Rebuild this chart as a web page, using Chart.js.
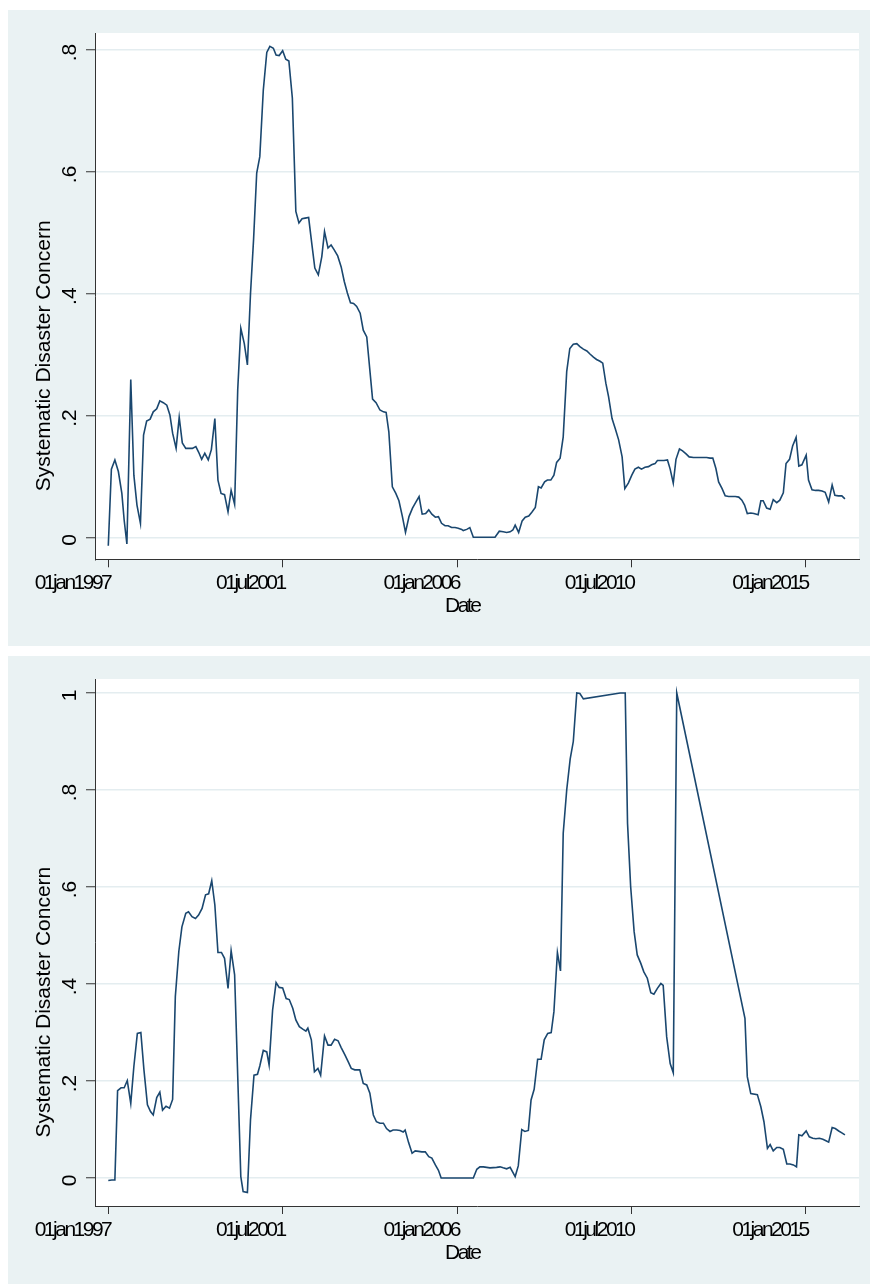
<!DOCTYPE html>
<html>
<head>
<meta charset="utf-8">
<script src="https://cdn.jsdelivr.net/npm/chart.js@4.4.1/dist/chart.umd.min.js"></script>
<style>
  body { margin: 0; background: #fff; }
  .panel { position: absolute; left: 8px; width: 862px; background: #EAF2F3; }
  #panel1 { top: 10px; height: 636px; }
  #panel2 { top: 656px; height: 628px; }
  canvas { display: block; }
</style>
</head>
<body>
<div class="panel" id="panel1"><canvas id="chart1" width="862" height="636"></canvas></div>
<div class="panel" id="panel2"><canvas id="chart2" width="862" height="628"></canvas></div>
<script>
const xTicks = [1997, 2001.5, 2006, 2010.5, 2015];
const xTickLabels = ['01jan1997', '01jul2001', '01jan2006', '01jul2010', '01jan2015'];
const xTitle = 'Date';
const yTitle = 'Systematic Disaster Concern';
const yTicks1 = [0, 0.2, 0.4, 0.6, 0.8];
const yTicks2 = [0, 0.2, 0.4, 0.6, 0.8, 1];

// top panel (dates as decimal years)
const dates1 = [
  1997.00, 1997.08, 1997.17, 1997.26, 1997.35, 1997.41, 1997.48, 1997.58, 1997.66, 1997.74,
  1997.83, 1997.91, 1997.99, 1998.08, 1998.16, 1998.25, 1998.33, 1998.42, 1998.51, 1998.59,
  1998.66, 1998.75, 1998.83, 1998.91, 1999.00, 1999.08, 1999.17, 1999.26, 1999.33, 1999.41,
  1999.49, 1999.58, 1999.66, 1999.75, 1999.83, 1999.91, 2000.00, 2000.09, 2000.17, 2000.26,
  2000.34, 2000.42, 2000.51, 2000.59, 2000.67, 2000.75, 2000.83, 2000.91, 2001.00, 2001.09,
  2001.17, 2001.26, 2001.33, 2001.41, 2001.50, 2001.58, 2001.66, 2001.75, 2001.84, 2001.92,
  2002.00, 2002.08, 2002.17, 2002.25, 2002.33, 2002.42, 2002.51, 2002.58, 2002.67, 2002.75,
  2002.83, 2002.92, 2003.01, 2003.09, 2003.17, 2003.25, 2003.33, 2003.41, 2003.50, 2003.58,
  2003.67, 2003.82, 2003.91, 2004.01, 2004.10, 2004.17, 2004.24, 2004.33, 2004.42, 2004.50,
  2004.59, 2004.67, 2004.76, 2004.85, 2004.93, 2005.02, 2005.10, 2005.19, 2005.27, 2005.35,
  2005.44, 2005.52, 2005.60, 2005.69, 2005.77, 2005.86, 2005.95, 2006.03, 2006.12, 2006.16,
  2006.25, 2006.33, 2006.42, 2006.98, 2007.09, 2007.19, 2007.28, 2007.37, 2007.44, 2007.50,
  2007.59, 2007.68, 2007.76, 2007.85, 2007.93, 2008.02, 2008.10, 2008.17, 2008.26, 2008.33,
  2008.42, 2008.50, 2008.57, 2008.66, 2008.74, 2008.83, 2008.91, 2009.00, 2009.09, 2009.17,
  2009.26, 2009.35, 2009.43, 2009.52, 2009.60, 2009.69, 2009.76, 2009.84, 2009.91, 2010.00,
  2010.08, 2010.17, 2010.26, 2010.33, 2010.42, 2010.51, 2010.59, 2010.68, 2010.76, 2010.85,
  2010.94, 2011.02, 2011.11, 2011.17, 2011.25, 2011.34, 2011.43, 2011.50, 2011.58, 2011.65,
  2011.74, 2011.82, 2011.91, 2011.99, 2012.10, 2012.18, 2012.27, 2012.36, 2012.44, 2012.53,
  2012.60, 2012.68, 2012.75, 2012.84, 2012.92, 2013.01, 2013.10, 2013.18, 2013.27, 2013.35,
  2013.42, 2013.49, 2013.58, 2013.66, 2013.77, 2013.84, 2013.90, 2013.99, 2014.08, 2014.16,
  2014.25, 2014.33, 2014.42, 2014.49, 2014.58, 2014.66, 2014.75, 2014.82, 2014.90, 2015.01,
  2015.07, 2015.16, 2015.25, 2015.33, 2015.42, 2015.50, 2015.59, 2015.68, 2015.75, 2015.84,
  2015.93, 2016.01
];
const values1 = [
  -0.014, 0.112, 0.127, 0.108, 0.072, 0.028, -0.011, 0.259, 0.102, 0.053,
  0.023, 0.168, 0.191, 0.194, 0.206, 0.211, 0.224, 0.221, 0.217, 0.201,
  0.171, 0.146, 0.197, 0.155, 0.146, 0.146, 0.146, 0.149, 0.140, 0.128,
  0.138, 0.127, 0.144, 0.195, 0.094, 0.072, 0.070, 0.042, 0.077, 0.054,
  0.242, 0.343, 0.318, 0.283, 0.400, 0.490, 0.598, 0.625, 0.734, 0.796,
  0.806, 0.803, 0.792, 0.791, 0.799, 0.785, 0.782, 0.721, 0.535, 0.516,
  0.523, 0.524, 0.525, 0.483, 0.442, 0.431, 0.461, 0.502, 0.475, 0.480,
  0.472, 0.462, 0.444, 0.420, 0.401, 0.385, 0.384, 0.379, 0.368, 0.340,
  0.329, 0.227, 0.221, 0.209, 0.206, 0.205, 0.173, 0.083, 0.072, 0.060,
  0.034, 0.008, 0.034, 0.048, 0.057, 0.067, 0.038, 0.039, 0.045, 0.038,
  0.033, 0.034, 0.023, 0.019, 0.019, 0.016, 0.016, 0.015, 0.013, 0.011,
  0.013, 0.016, 0.000, 0.000, 0.010, 0.009, 0.008, 0.009, 0.012, 0.020,
  0.008, 0.027, 0.033, 0.035, 0.041, 0.049, 0.083, 0.081, 0.091, 0.094,
  0.094, 0.102, 0.123, 0.130, 0.165, 0.272, 0.310, 0.317, 0.318, 0.313,
  0.309, 0.306, 0.301, 0.296, 0.292, 0.289, 0.286, 0.253, 0.231, 0.195,
  0.179, 0.160, 0.132, 0.080, 0.089, 0.102, 0.112, 0.115, 0.112, 0.115,
  0.116, 0.119, 0.121, 0.126, 0.126, 0.126, 0.127, 0.112, 0.089, 0.128,
  0.145, 0.142, 0.137, 0.132, 0.131, 0.131, 0.131, 0.131, 0.131, 0.130,
  0.130, 0.113, 0.091, 0.080, 0.068, 0.067, 0.067, 0.067, 0.066, 0.061,
  0.053, 0.039, 0.040, 0.039, 0.037, 0.060, 0.060, 0.048, 0.046, 0.062,
  0.057, 0.061, 0.073, 0.121, 0.128, 0.150, 0.164, 0.117, 0.119, 0.135,
  0.094, 0.078, 0.077, 0.077, 0.076, 0.074, 0.058, 0.086, 0.069, 0.068,
  0.068, 0.063
];

// bottom panel
const dates2 = [
  1997.00, 1997.09, 1997.17, 1997.24, 1997.33, 1997.41, 1997.49, 1997.58, 1997.66, 1997.75,
  1997.84, 1997.92, 1998.01, 1998.09, 1998.16, 1998.25, 1998.33, 1998.40, 1998.49, 1998.58,
  1998.66, 1998.73, 1998.82, 1998.90, 1999.00, 1999.07, 1999.16, 1999.25, 1999.33, 1999.42,
  1999.51, 1999.59, 1999.67, 1999.75, 1999.83, 1999.92, 2000.00, 2000.09, 2000.17, 2000.26,
  2000.42, 2000.48, 2000.59, 2000.67, 2000.76, 2000.85, 2000.91, 2001.00, 2001.09, 2001.15,
  2001.24, 2001.33, 2001.41, 2001.50, 2001.59, 2001.67, 2001.76, 2001.84, 2001.93, 2002.02,
  2002.10, 2002.15, 2002.24, 2002.32, 2002.41, 2002.48, 2002.58, 2002.67, 2002.75, 2002.84,
  2002.93, 2003.01, 2003.10, 2003.19, 2003.27, 2003.36, 2003.49, 2003.58, 2003.67, 2003.75,
  2003.84, 2003.92, 2004.01, 2004.10, 2004.18, 2004.27, 2004.35, 2004.44, 2004.53, 2004.61,
  2004.66, 2004.75, 2004.84, 2004.92, 2005.01, 2005.09, 2005.18, 2005.27, 2005.35, 2005.44,
  2005.52, 2005.59, 2006.42, 2006.51, 2006.59, 2006.68, 2006.85, 2007.02, 2007.11, 2007.19,
  2007.28, 2007.37, 2007.50, 2007.58, 2007.67, 2007.75, 2007.84, 2007.91, 2007.99, 2008.08,
  2008.17, 2008.25, 2008.34, 2008.43, 2008.50, 2008.59, 2008.67, 2008.74, 2008.83, 2008.92,
  2009.00, 2009.09, 2009.17, 2009.26, 2010.21, 2010.34, 2010.40, 2010.48, 2010.57, 2010.65,
  2010.74, 2010.82, 2010.91, 2011.00, 2011.08, 2011.17, 2011.26, 2011.32, 2011.41, 2011.50,
  2011.58, 2011.67, 2013.43, 2013.49, 2013.58, 2013.75, 2013.84, 2013.92, 2014.01, 2014.08,
  2014.16, 2014.25, 2014.33, 2014.42, 2014.51, 2014.59, 2014.68, 2014.76, 2014.82, 2014.90,
  2015.01, 2015.09, 2015.18, 2015.26, 2015.35, 2015.44, 2015.52, 2015.59, 2015.68, 2015.76,
  2015.85, 2015.93, 2016.01
];
const values2 = [
  -0.005, -0.004, -0.004, 0.180, 0.186, 0.186, 0.201, 0.154, 0.230, 0.298,
  0.300, 0.223, 0.151, 0.137, 0.130, 0.166, 0.177, 0.140, 0.148, 0.144,
  0.162, 0.374, 0.467, 0.518, 0.546, 0.549, 0.539, 0.535, 0.542, 0.556,
  0.584, 0.586, 0.613, 0.563, 0.465, 0.465, 0.453, 0.391, 0.469, 0.419,
  0.003, -0.028, -0.030, 0.120, 0.212, 0.214, 0.231, 0.263, 0.260, 0.233,
  0.346, 0.403, 0.393, 0.392, 0.370, 0.368, 0.350, 0.326, 0.312, 0.307,
  0.303, 0.309, 0.285, 0.219, 0.226, 0.212, 0.293, 0.274, 0.274, 0.286,
  0.283, 0.269, 0.255, 0.240, 0.226, 0.223, 0.223, 0.195, 0.192, 0.175,
  0.130, 0.116, 0.113, 0.113, 0.102, 0.096, 0.099, 0.099, 0.098, 0.095,
  0.099, 0.073, 0.051, 0.056, 0.055, 0.054, 0.054, 0.044, 0.041, 0.027,
  0.016, 0.000, 0.000, 0.018, 0.023, 0.023, 0.021, 0.022, 0.023, 0.021,
  0.019, 0.022, 0.003, 0.025, 0.100, 0.096, 0.098, 0.161, 0.183, 0.245,
  0.245, 0.285, 0.298, 0.300, 0.343, 0.465, 0.427, 0.711, 0.800, 0.864,
  0.900, 1.000, 0.999, 0.988, 1.000, 1.000, 0.731, 0.601, 0.508, 0.460,
  0.443, 0.425, 0.412, 0.382, 0.379, 0.391, 0.401, 0.397, 0.291, 0.236,
  0.217, 1.000, 0.329, 0.209, 0.174, 0.172, 0.147, 0.116, 0.061, 0.069,
  0.056, 0.063, 0.063, 0.059, 0.029, 0.029, 0.027, 0.023, 0.089, 0.087,
  0.097, 0.085, 0.082, 0.081, 0.082, 0.080, 0.077, 0.074, 0.104, 0.102,
  0.097, 0.093, 0.089
];

const FONT = '21px "Liberation Sans", Arial, sans-serif';

function fmtY(v) {
  if (v === 0) return '0';
  if (v === 1) return '1';
  return String(Math.round(v * 10) / 10).replace(/^0\./, '.');
}

// white plot region + Stata-like labels
const stataPlugin = {
  id: 'stataText',
  beforeDraw(chart) {
    const {ctx, chartArea: a} = chart;
    ctx.save();
    ctx.fillStyle = '#fff';
    ctx.fillRect(a.left, a.top, a.right - a.left, a.bottom - a.top);
    ctx.restore();
  },
  afterDraw(chart) {
    const {ctx, chartArea: a} = chart;
    const x = chart.scales.x, y = chart.scales.y;
    ctx.save();
    ctx.fillStyle = '#000';
    ctx.font = FONT;
    ctx.textBaseline = 'alphabetic';

    // x tick labels, condensed like Stata's output
    ctx.letterSpacing = '-2.5px';
    ctx.textAlign = 'right';
    x.ticks.forEach((t, i) => {
      ctx.fillText(xTickLabels[i], x.getPixelForValue(t.value) + 2, a.bottom + 30);
    });
    ctx.textAlign = 'left';
    ctx.fillText(xTitle, (a.left + a.right) / 2 - 32, a.bottom + 53);
    ctx.letterSpacing = '0px';

    // y tick labels, rotated
    y.ticks.forEach(t => {
      ctx.save();
      ctx.translate(a.left - 19, y.getPixelForValue(t.value) + 2.5);
      ctx.rotate(-Math.PI / 2);
      ctx.textAlign = 'center';
      ctx.fillText(fmtY(t.value), 0, 0);
      ctx.restore();
    });

    ctx.save();
    ctx.translate(a.left - 45, (a.top + a.bottom) / 2 + 195);
    ctx.rotate(-Math.PI / 2);
    ctx.textAlign = 'left';
    ctx.fillText(yTitle, 0, 0);
    ctx.restore();

    ctx.restore();
  }
};

function createChart(elementId, dates, values, yMin, yMax, yTicks, xAxisHeight) {
    return new Chart(
        document.getElementById(elementId),
        {
            type: 'line',
            data: {
                datasets: [
                    {
                        data: dates.map((d, i) => ({x: d, y: values[i]})),
                        borderColor: '#1A476F',
                        borderWidth: 1.6,
                        pointRadius: 0,
                        fill: false,
                        tension: 0
                    }
                ]
            },
            options: {
                responsive: false,
                animation: false,
                layout: { padding: { top: 23, right: 11, left: 0, bottom: 0 } },
                plugins: { legend: { display: false }, tooltip: { enabled: false } },
                scales: {
                    x: {
                        type: 'linear',
                        min: 1996.657,
                        max: 2016.373,
                        afterBuildTicks: s => { s.ticks = xTicks.map(v => ({value: v})); },
                        afterFit: s => { s.height = xAxisHeight; },
                        ticks: { display: false },
                        grid: {
                            drawOnChartArea: false,
                            drawTicks: true,
                            tickLength: 8,
                            tickColor: '#333',
                            tickWidth: 1
                        },
                        border: { display: true, color: '#333', width: 1 }
                    },
                    y: {
                        type: 'linear',
                        min: yMin,
                        max: yMax,
                        afterBuildTicks: s => { s.ticks = yTicks.map(v => ({value: v})); },
                        afterFit: s => { s.width = 87; },
                        ticks: { display: false },
                        grid: {
                            color: '#E4EDF0',
                            lineWidth: 1.5,
                            drawTicks: true,
                            tickLength: 9,
                            tickColor: '#333',
                            tickWidth: 1
                        },
                        border: { display: true, color: '#333', width: 1 }
                    }
                }
            },
            plugins: [stataPlugin]
        }
    );
}

createChart('chart1', dates1, values1, -0.0361, 0.828, yTicks1, 86.7);
createChart('chart2', dates2, values2, -0.0577, 1.0289, yTicks2, 78);
</script>
</body>
</html>
